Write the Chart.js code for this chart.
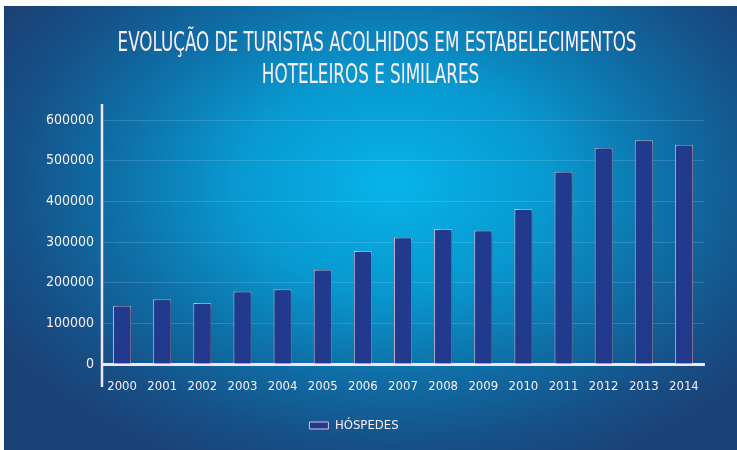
<!DOCTYPE html>
<html>
<head>
<meta charset="utf-8">
<script src="https://cdn.jsdelivr.net/npm/chart.js@4"></script>
<style>
  body { margin: 0; background: #fff; }
  #wrap {
    position: absolute; left: 4px; top: 6px; width: 733px; height: 444px;
    background: radial-gradient(ellipse 62% 70% at 53% 40%, #06b4ea 0%, #0898cf 35%, #0f6ea6 62%, #164f86 85%, #1b4277 100%);
  }
  .title {
    position: absolute; left: 0; width: 733px; text-align: center; white-space: nowrap;
    font-family: "DejaVu Sans Condensed", sans-serif;
    font-size: 27px; color: #fbeef4; transform: scaleX(0.69); transform-origin: 50% 50%;
  }
</style>
</head>
<body>
<div id="wrap">
  <div class="title" style="top: 20px;">EVOLUÇÃO DE TURISTAS ACOLHIDOS EM ESTABELECIMENTOS</div>
  <div class="title" style="top: 52px;">HOTELEIROS E SIMILARES</div>
  <canvas id="turistasChart" width="733" height="444"></canvas>
</div>
<script>
const anos = ['2000', '2001', '2002', '2003', '2004', '2005', '2006', '2007',
  '2008', '2009', '2010', '2011', '2012', '2013', '2014'];
const hospedes = [143000, 159000, 150000, 178000, 184000, 232000, 278000, 311000,
  332000, 328000, 381000, 473000, 532000, 550000, 539000];
const serieNome = 'HÓSPEDES';

const fonte = '"DejaVu Sans Condensed", sans-serif';
const textoCor = '#fbeef4';

// y axis line runs past the plot area, like in the printed chart
const eixoY = {
  id: 'eixoY',
  afterDraw(chart) {
    const { ctx, chartArea } = chart;
    ctx.save();
    ctx.strokeStyle = '#f4e4ee';
    ctx.lineWidth = 2.5;
    ctx.beginPath();
    ctx.moveTo(chartArea.left, chartArea.top - 16);
    ctx.lineTo(chartArea.left, chartArea.bottom + 23);
    ctx.stroke();
    ctx.restore();
  }
};

const sombra = {
  id: 'sombra',
  beforeDatasetsDraw(chart) {
    const ctx = chart.ctx;
    ctx.save();
    ctx.shadowColor = 'rgba(5, 15, 50, 0.55)';
    ctx.shadowBlur = 6;
    ctx.shadowOffsetX = 3;
    ctx.shadowOffsetY = 0;
  },
  afterDatasetsDraw(chart) {
    chart.ctx.restore();
  }
};

const ctx = document.getElementById('turistasChart').getContext('2d');
new Chart(ctx, {
  type: 'bar',
  data: {
    labels: anos,
    datasets: [{
      label: serieNome,
      data: hospedes,
      backgroundColor: '#223a8e',
      borderColor: '#dcc0d8',
      borderWidth: 1,
      barPercentage: 0.9,
      categoryPercentage: 0.5
    }]
  },
  options: {
    responsive: false,
    animation: false,
    layout: { padding: { top: 114, right: 33, left: 0, bottom: 8 } },
    plugins: {
      title: { display: false },
      tooltip: { enabled: false },
      legend: {
        position: 'bottom',
        labels: {
          color: textoCor,
          font: { family: fonte, size: 13 },
          boxWidth: 19,
          boxHeight: 7,
          padding: 10
        }
      }
    },
    scales: {
      x: {
        grid: { display: false, drawTicks: false },
        border: { display: true, color: '#f4e4ee', width: 3 },
        ticks: {
          color: textoCor, font: { family: fonte, size: 13 }, padding: 15,
          maxRotation: 0, autoSkip: false
        },
        afterFit(scale) { scale.height = 45; }
      },
      y: {
        min: 0,
        max: 600000,
        grid: { color: 'rgba(200, 230, 255, 0.18)', lineWidth: 1, drawTicks: false },
        border: { display: false },
        ticks: {
          stepSize: 100000, color: textoCor, font: { family: fonte, size: 14 }, padding: 8,
          callback: v => String(v)
        },
        afterFit(scale) { scale.width = 98; }
      }
    }
  },
  plugins: [sombra, eixoY]
});
</script>
</body>
</html>
